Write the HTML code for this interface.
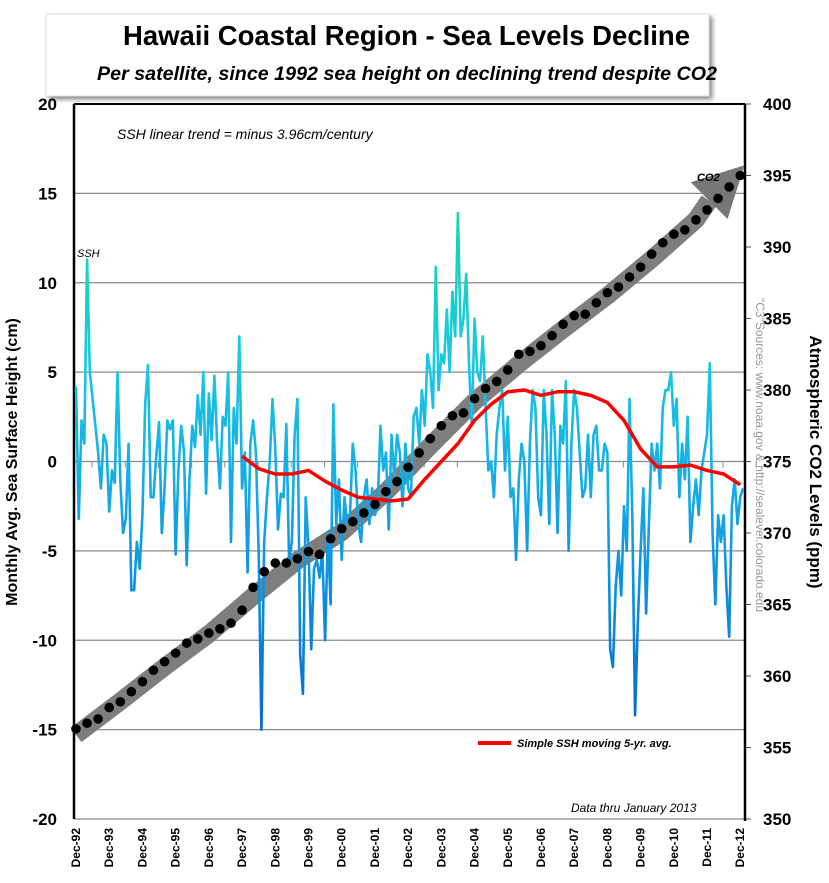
<!DOCTYPE html>
<html><head><meta charset="utf-8">
<style>
html,body{margin:0;padding:0;background:#fff;}
body{width:829px;height:883px;overflow:hidden;font-family:"Liberation Sans",sans-serif;}
svg{display:block;}
</style></head>
<body>
<svg id="chart" width="829" height="883" viewBox="0 0 829 883" xmlns="http://www.w3.org/2000/svg">
<defs>
<linearGradient id="sshGrad" gradientUnits="userSpaceOnUse" x1="0" y1="200" x2="0" y2="740">
<stop offset="0" stop-color="#18d8a8"/>
<stop offset="0.3" stop-color="#1ac8e0"/>
<stop offset="0.55" stop-color="#14a8e6"/>
<stop offset="1" stop-color="#0566d0"/>
</linearGradient>
<filter id="sh" x="-5%" y="-10%" width="112%" height="130%"><feDropShadow dx="3" dy="3" stdDeviation="2.5" flood-color="#000" flood-opacity="0.45"/></filter>
</defs>
<g>
<rect x="46" y="14" width="663" height="82" fill="#fff" stroke="#ddd" filter="url(#sh)"/>
<text x="123" y="45" textLength="567" lengthAdjust="spacingAndGlyphs" font-family="'Liberation Sans Narrow','Liberation Sans',sans-serif" font-weight="bold" font-size="28" fill="#000">Hawaii Coastal Region - Sea Levels Decline</text>
<text x="97" y="80" textLength="620" lengthAdjust="spacingAndGlyphs" font-family="'Liberation Sans Narrow','Liberation Sans',sans-serif" font-weight="bold" font-style="italic" font-size="19" fill="#000">Per satellite, since 1992 sea height on declining trend despite CO2</text>
</g>
<g id="grid"></g>
<g id="axes"></g>
<g id="series"></g>
<g id="labels"></g>
<text x="117" y="139" font-style="italic" font-size="14" fill="#000">SSH linear trend = minus 3.96cm/century</text>
<text x="77" y="257" font-style="italic" font-size="11" fill="#000">SSH</text>
<text x="697" y="181" font-style="italic" font-weight="bold" font-size="11" fill="#000">CO2</text>
<g>
<line x1="478" y1="743" x2="511" y2="743" stroke="#f00" stroke-width="4"/>
<text x="517" y="747" font-style="italic" font-weight="bold" font-size="11" fill="#000">Simple SSH moving 5-yr. avg.</text>
</g>
<text x="571" y="812" font-style="italic" font-size="12" fill="#000">Data thru January 2013</text>
<text transform="translate(17,462) rotate(-90)" text-anchor="middle" font-weight="bold" font-size="16" fill="#000">Monthly Avg. Sea Surface Height (cm)</text>
<text transform="translate(810,462) rotate(90)" text-anchor="middle" font-weight="bold" font-size="17" fill="#000">Atmospheric CO2 Levels (ppm)</text>
<text transform="translate(756,298) rotate(90)" font-size="12" fill="#999">"C3"Sources: www.noaa.gov &amp; http://sealevel.colorado.edu</text>
</svg>
<script>
const sshValues = [
4.2,-3.2,2.3,1.0,11.3,5.0,3.5,2.0,0.5,-1.5,1.5,1.0,
-2.8,-0.5,-1.2,5.0,-1.0,-4.0,-3.2,1.0,-7.2,-7.2,-4.5,-6.0,
-3.0,3.2,5.4,-2.0,-2.0,0.3,2.2,-4.0,-1.5,2.3,1.8,2.3,
-5.2,-0.5,2.0,0.6,-5.8,-1.0,2.0,0.8,3.7,1.5,5.0,-1.8,
3.8,1.2,4.8,1.0,-1.5,2.5,2.0,5.0,-4.5,3.0,1.0,7.0,
-1.5,0.5,-6.2,1.0,2.3,0.5,-5.0,-15.0,-4.5,-2.0,0.0,3.5,
0.7,-3.8,-1.8,-2.0,2.1,-5.6,-4.5,1.5,3.5,-10.8,-13.0,-2.0,
-4.8,-10.5,-6.0,-5.5,-6.5,-5.0,-10.0,-4.0,-8.0,3.2,-3.5,-1.0,
-5.5,-2.0,-3.5,-3.0,1.0,-0.5,-3.5,-4.5,-2.0,-1.0,-3.5,-1.5,
-3.0,-2.5,2.0,-0.5,0.5,-3.8,1.5,-1.0,1.5,0.5,-2.5,1.0,
-1.5,-2.0,2.5,3.0,1.0,4.0,2.0,6.0,5.0,3.0,10.9,4.0,
6.0,5.5,8.5,5.0,9.5,7.0,13.9,7.0,8.0,10.5,5.5,2.0,
8.0,5.0,4.5,7.0,3.0,-0.5,0.0,-2.0,1.5,3.0,4.0,-0.5,
2.5,-2.0,-1.5,-5.5,-1.0,1.0,0.0,-5.0,1.0,4.0,3.0,-2.0,
-3.0,4.0,1.5,-3.5,4.0,1.5,-4.0,2.0,1.0,4.5,-5.0,1.0,
4.0,3.0,0.5,-2.0,-1.5,1.5,-2.0,1.5,2.0,-0.5,-0.5,1.0,
0.5,-10.5,-11.5,-7.0,-5.0,-7.5,-2.5,-5.0,3.5,-3.0,-14.2,-9.0,
-5.0,-1.5,-8.5,-3.5,1.0,-0.5,1.0,-1.5,3.0,4.0,4.0,5.0,
2.0,3.5,-2.0,1.0,-1.0,2.5,-4.5,-2.5,-1.0,-3.0,-0.5,0.5,
1.5,5.5,-4.0,-8.0,-3.0,-4.5,-3.0,-7.0,-9.8,-2.5,-1.0,-3.5,
-2.0,-1.5
];
const avgStartMonth = 60;
const avgStepMonths = 6;
const avgValues = [0.3,-0.4,-0.7,-0.7,-0.5,-1.1,-1.6,-2.0,-2.1,-2.2,-2.1,-1.0,0.0,1.0,2.3,3.2,3.9,4.0,3.7,3.9,3.9,3.7,3.3,2.3,0.7,-0.3,-0.3,-0.2,-0.5,-0.7,-1.3];
const co2StepMonths = 4;
const co2Values = [356.3,356.7,357.0,357.8,358.2,358.9,359.6,360.4,361.0,361.6,362.3,362.6,363.0,363.3,363.7,364.6,366.2,367.3,367.9,367.9,368.2,368.7,368.5,369.6,370.3,370.8,371.4,372.0,372.9,373.6,374.6,375.6,376.6,377.5,378.2,378.4,379.4,380.1,380.6,381.4,382.5,382.7,383.1,383.8,384.6,385.2,385.3,386.1,386.8,387.2,387.9,388.6,389.5,390.3,390.9,391.2,391.9,392.6,393.4,394.2,395.0];
const leftTicks = [20,15,10,5,0,-5,-10,-15,-20];
const rightTicks = [400,395,390,385,380,375,370,365,360,355,350];
const xLabels = ["Dec-92","Dec-93","Dec-94","Dec-95","Dec-96","Dec-97","Dec-98","Dec-99","Dec-00","Dec-01","Dec-02","Dec-03","Dec-04","Dec-05","Dec-06","Dec-07","Dec-08","Dec-09","Dec-10","Dec-11","Dec-12"];

const NS="http://www.w3.org/2000/svg";
const PL=74, PR=745, PT=104, PB=819;
function xM(i){return 76 + i*(743-76)/241;}
function yL(v){return PT + (20-v)*(PB-PT)/40;}
function yR(v){return PT + (400-v)*(PB-PT)/50;}
function mk(tag,attrs,parent){const e=document.createElementNS(NS,tag);for(const k in attrs)e.setAttribute(k,attrs[k]);parent.appendChild(e);return e;}
const grid=document.getElementById('grid'), axes=document.getElementById('axes'), series=document.getElementById('series'), labels=document.getElementById('labels');

leftTicks.forEach(v=>{
  const y=yL(v);
  if(v!==20){const g=mk('line',{x1:PL,y1:y,x2:PR,y2:y,stroke:'#8a8a8a','stroke-width':1.3},grid);
  
  }
  const t=mk('text',{x:57,y:y+6,'text-anchor':'end','font-weight':'bold','font-size':17,fill:'#000'},labels);
  t.textContent=v;
  
  
});
rightTicks.forEach(v=>{
  const y=yR(v);
  const tk=mk('line',{x1:PR,y1:y,x2:PR+6,y2:y,stroke:'#555','stroke-width':1},axes);
  
  
  const t=mk('text',{x:763,y:y+6,'font-weight':'bold','font-size':17,fill:'#000'},labels);
  t.textContent=v;
  
  
});
xLabels.forEach((s,k)=>{
  const x=xM(k*12);
  const t=mk('text',{transform:`translate(${x+4},${828}) rotate(-90)`,'text-anchor':'end','font-weight':'bold','font-size':12,fill:'#000'},labels);
  t.textContent=s;
  
  
  const m=mk('line',{x1:x+16,y1:yL(0),x2:x+16,y2:yL(0)+6,stroke:'#888','stroke-width':1},grid);
  
  
});
let a=mk('line',{x1:PL,y1:PT,x2:PR,y2:PT,stroke:'#000','stroke-width':2},axes);


a=mk('line',{x1:PL,y1:PT,x2:PL,y2:PB,stroke:'#000','stroke-width':2.5},axes);


a=mk('line',{x1:PR,y1:PT,x2:PR,y2:PB+2,stroke:'#000','stroke-width':2.5},axes);



// CO2 trend band
const co2Pts=co2Values.map((v,k)=>[xM(k*co2StepMonths),yR(v)]);
const sm=[];
for(let k=0;k<co2Pts.length;k+=4){
  let sx=0,sy=0,n=0;
  for(let j=Math.max(0,k-4);j<=Math.min(co2Pts.length-1,k+4);j++){sx+=co2Pts[j][0];sy+=co2Pts[j][1];n++;}
  sm.push([sx/n,sy/n+3]);
}
sm[0]=[co2Pts[0][0],co2Pts[0][1]+6];
const last=co2Pts[co2Pts.length-1];
const prev=sm[sm.length-2];
const dx=last[0]-prev[0], dy=last[1]-prev[1], L=Math.hypot(dx,dy), ux=dx/L, uy=dy/L;
const tip=[last[0]+6*ux,last[1]-6+6*uy];
const base=[tip[0]-50*ux,tip[1]-50*uy];
sm[sm.length-1]=base;
const band=mk('polyline',{points:sm.map(p=>p.join(',')).join(' '),fill:'none',stroke:'#777','stroke-width':18,'stroke-linejoin':'round','opacity':0.95},series);


const head=mk('polygon',{points:`${tip[0]},${tip[1]} ${base[0]-26*uy},${base[1]+26*ux} ${base[0]+26*uy},${base[1]-26*ux}`,fill:'#777'},series);



// SSH line
const ssh=mk('polyline',{points:sshValues.map((v,i)=>xM(i)+','+yL(v)).join(' '),fill:'none',stroke:'url(#sshGrad)','stroke-width':2.6,'stroke-linejoin':'round'},series);



// Moving average
const avg=mk('polyline',{points:avgValues.map((v,k)=>xM(avgStartMonth+k*avgStepMonths)+','+yL(v)).join(' '),fill:'none',stroke:'#f00','stroke-width':3.5,'stroke-linejoin':'round'},series);



// CO2 dots
co2Values.forEach((v,k)=>{
  const c=mk('circle',{cx:xM(k*co2StepMonths),cy:yR(v),r:4.8,fill:'#000'},series);
  
  
});
</script>
</body></html>
